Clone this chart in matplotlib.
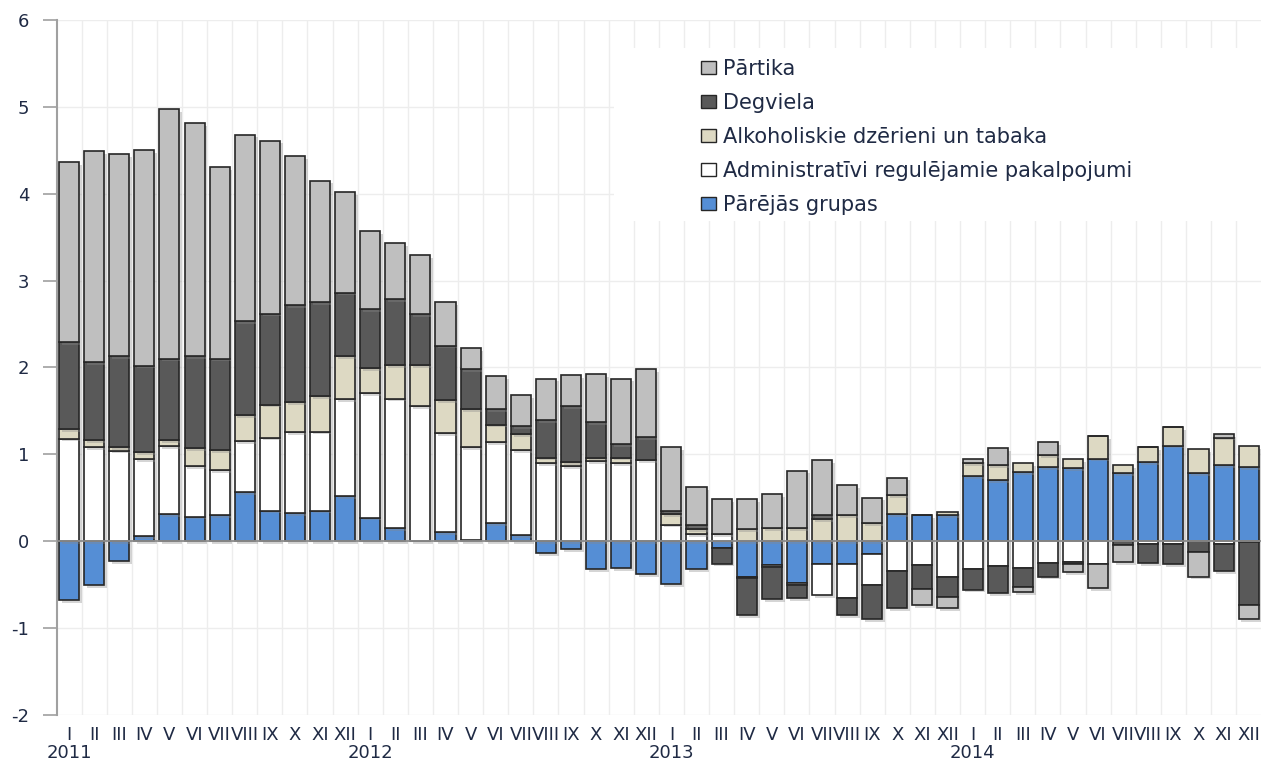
import numpy as np
import matplotlib
matplotlib.use("Agg")
import matplotlib.pyplot as plt
from matplotlib.patches import Patch, Rectangle
import matplotlib.patheffects as pe

plt.rcParams["axes.unicode_minus"] = False

# --- data (percentage point contributions, monthly 2011-2014) ---
months = ["I", "II", "III", "IV", "V", "VI", "VII", "VIII", "IX", "X", "XI", "XII"] * 4
years = ["2011", "2012", "2013", "2014"]

blue = [-0.68, -0.51, -0.23, 0.06, 0.31, 0.28, 0.30, 0.56, 0.35, 0.32, 0.35, 0.52,
        0.27, 0.15, 0.00, 0.10, 0.01, 0.21, 0.07, -0.14, -0.09, -0.32, -0.31, -0.38,
        -0.50, -0.32, -0.08, -0.41, -0.28, -0.48, -0.27, -0.27, -0.15, 0.31, 0.30, 0.30,
        0.75, 0.70, 0.79, 0.85, 0.84, 0.95, 0.78, 0.91, 1.10, 0.78, 0.87, 0.85]
white = [1.18, 1.08, 1.04, 0.88, 0.78, 0.58, 0.52, 0.59, 0.84, 0.93, 0.91, 1.11,
         1.43, 1.49, 1.55, 1.14, 1.07, 0.93, 0.98, 0.90, 0.86, 0.92, 0.90, 0.93,
         0.19, 0.08, 0.08, -0.02, -0.02, -0.03, -0.35, -0.39, -0.36, -0.34, -0.28, -0.41,
         -0.32, -0.29, -0.31, -0.25, -0.24, -0.26, 0.00, -0.04, -0.04, 0.00, -0.03, -0.01]
beige = [0.11, 0.08, 0.04, 0.08, 0.07, 0.21, 0.23, 0.30, 0.38, 0.35, 0.41, 0.50,
         0.29, 0.39, 0.48, 0.38, 0.44, 0.20, 0.18, 0.06, 0.05, 0.04, 0.06, 0.00,
         0.12, 0.06, 0.00, 0.14, 0.15, 0.15, 0.25, 0.30, 0.21, 0.22, 0.00, 0.04,
         0.15, 0.17, 0.11, 0.14, 0.10, 0.26, 0.09, 0.17, 0.21, 0.28, 0.32, 0.24]
dark = [1.00, 0.90, 1.05, 1.00, 0.94, 1.06, 1.05, 1.08, 1.05, 1.12, 1.08, 0.73,
        0.68, 0.76, 0.58, 0.63, 0.46, 0.18, 0.09, 0.43, 0.64, 0.41, 0.16, 0.27,
        0.04, 0.04, -0.18, -0.42, -0.37, -0.15, 0.05, -0.19, -0.39, -0.43, -0.27, -0.23,
        -0.24, -0.31, -0.22, -0.16, -0.02, 0.00, -0.05, -0.21, -0.23, -0.13, -0.32, -0.73]
gray = [2.07, 2.43, 2.33, 2.48, 2.87, 2.68, 2.21, 2.15, 1.99, 1.71, 1.40, 1.16,
        0.90, 0.64, 0.68, 0.50, 0.24, 0.38, 0.36, 0.48, 0.36, 0.55, 0.75, 0.78,
        0.73, 0.44, 0.40, 0.34, 0.39, 0.66, 0.63, 0.34, 0.29, 0.20, -0.19, -0.13,
        0.04, 0.20, -0.06, 0.15, -0.10, -0.28, -0.19, 0.00, 0.00, -0.28, 0.04, -0.16]

labels = ["Pārējās grupas", "Administratīvi regulējamie pakalpojumi",
          "Alkoholiskie dzērieni un tabaka", "Degviela", "Pārtika"]
colors = ["#558ED5", "#FFFFFF", "#DDD9C3", "#595959", "#BFBFBF"]
series = [blue, white, beige, dark, gray]

text_col = "#1F2A44"

fig = plt.figure(figsize=(12.61, 7.6), dpi=100)
ax = fig.add_axes([57 / 1261, 45.3 / 760, 1204 / 1261, 694.7 / 760])

x = np.arange(len(months))
pos_base = np.zeros(len(x))
neg_base = np.zeros(len(x))
shadow = [pe.SimplePatchShadow(offset=(2, -2), shadow_rgbFace="#888888", alpha=0.35), pe.Normal()]
for vals, col in zip(series, colors):
    v = np.array(vals)
    base = np.where(v >= 0, pos_base, neg_base)
    bars = ax.bar(x, v, 0.8, bottom=base, color=col, edgecolor="#262626", linewidth=1.2, zorder=3)
    for b in bars:
        b.set_path_effects(shadow)
    pos_base += np.where(v > 0, v, 0)
    neg_base += np.where(v < 0, v, 0)

ax.set_xlim(-0.48, 47.49)
ax.set_ylim(-2, 6)

# grid
for yv in range(-2, 7):
    ax.axhline(yv, color="#EDEDED", lw=1, zorder=0)
for xv in x[:-1] + 0.5:
    ax.axvline(xv, color="#EDEDED", lw=1, zorder=0)
ax.axhline(0, color="#8C8C8C", lw=1.3, zorder=4)

# white area behind the legend
ax.add_patch(Rectangle((21.7, 3.68), 30, 2.0, facecolor="white", edgecolor="none", zorder=1))

for s in ["top", "right", "bottom"]:
    ax.spines[s].set_visible(False)
ax.spines["left"].set_color("#A0A0A0")
ax.spines["left"].set_linewidth(1.5)

ax.set_yticks(range(-2, 7))
ax.tick_params(axis="y", length=10, width=1.2, color="#A0A0A0", pad=10, labelsize=13, labelcolor=text_col)
ax.set_xticks(x)
ax.set_xticklabels(months)
ax.tick_params(axis="x", length=0, pad=8, labelsize=13, labelcolor=text_col)

for i, yr in enumerate(years):
    ax.text(i * 12, -0.055, yr, transform=ax.get_xaxis_transform(), ha="center", va="center",
            fontsize=13, color=text_col)

handles = [Patch(facecolor=c, edgecolor="#262626", linewidth=1.0, label=l)
           for c, l in zip(colors[::-1], labels[::-1])]
ax.legend(handles=handles, loc="upper left", bbox_to_anchor=(0.5195, 0.971), frameon=False,
          fontsize=15, labelcolor=text_col, handlelength=0.72, handleheight=0.55,
          handletextpad=0.34, labelspacing=0.67)

fig.savefig("out.png", dpi=100)
